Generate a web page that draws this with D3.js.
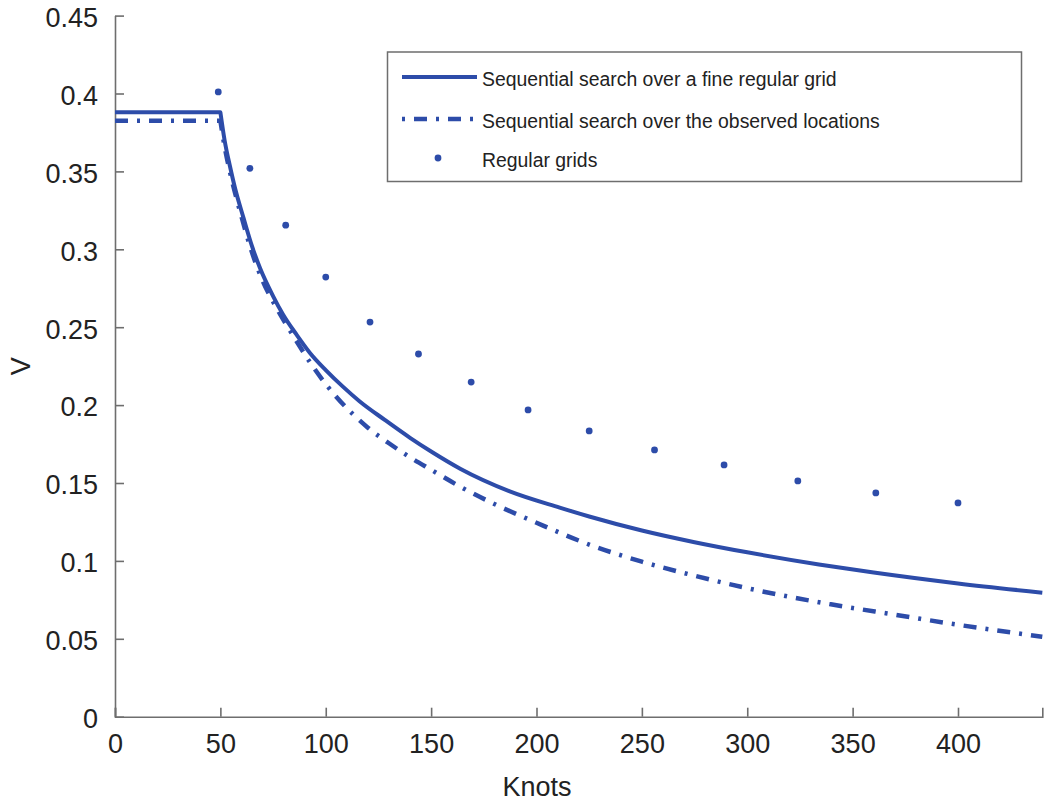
<!doctype html>
<html lang="en">
<head>
<meta charset="utf-8">
<title>V against knots</title>
<script src="https://cdnjs.cloudflare.com/ajax/libs/d3/7.8.5/d3.min.js"></script>
<style>
  body { margin: 0; background: #fff; }
  svg { font-family: "Liberation Sans", Arial, sans-serif; }
  .axis path, .axis line { stroke: #6e6e6e; stroke-width: 1.6px; }
  .axis text { fill: #222; font-size: 27px; }
</style>
</head>
<body>
<div id="chart"></div>
<script>
// knots vs. V
var fineKnots = [0, 50, 52, 54.6, 57, 60.9, 65, 68.8, 75, 79.8, 86, 92.5, 100, 108, 116, 128, 140, 150, 164, 187, 211, 225, 250, 275, 300, 334, 360, 400, 440];
var fineV     = [0.388, 0.388, 0.370, 0.353, 0.339, 0.3205, 0.302, 0.288, 0.270, 0.258, 0.2455, 0.2335, 0.2225, 0.212, 0.2025, 0.1905, 0.179, 0.1702, 0.159, 0.1448, 0.1342, 0.1285, 0.1195, 0.112, 0.1055, 0.0977, 0.0925, 0.0855, 0.0796];

var obsKnots = [0, 50, 52, 55, 60, 65, 70, 77, 85, 92.5, 100, 113, 120, 130, 140, 150, 164, 180, 200, 225, 250, 275, 300, 339, 370, 400, 440];
var obsV     = [0.3825, 0.3825, 0.366, 0.347, 0.321, 0.298, 0.280, 0.2615, 0.2435, 0.2275, 0.2135, 0.194, 0.1855, 0.1755, 0.1665, 0.1585, 0.1475, 0.1365, 0.1245, 0.1105, 0.0995, 0.0905, 0.0825, 0.0723, 0.0655, 0.059, 0.0513];

var gridKnots = [49, 64, 81, 100, 121, 144, 169, 196, 225, 256, 289, 324, 361, 400];
var gridV     = [0.401, 0.352, 0.3155, 0.2822, 0.2533, 0.2328, 0.2148, 0.1969, 0.1834, 0.1712, 0.1616, 0.1513, 0.1436, 0.1372];

var xTicks = [0, 50, 100, 150, 200, 250, 300, 350, 400];
var yTicks = [0, 0.05, 0.1, 0.15, 0.2, 0.25, 0.3, 0.35, 0.4, 0.45];

var seriesNames = [
  "Sequential search over a fine regular grid",
  "Sequential search over the observed locations",
  "Regular grids"
];

var blue = "#2d4ca9";

var width = 1050, height = 803,
    margin = {top: 15.6, right: 7.7, bottom: 86.3, left: 115};

var svg = d3.select("#chart").append("svg")
    .attr("width", width)
    .attr("height", height);

var x = d3.scaleLinear().domain([0, 440]).range([margin.left, width - margin.right]);
var y = d3.scaleLinear().domain([0, 0.45]).range([height - margin.bottom, margin.top]);

// axes, ticks pointing inward
svg.append("g")
    .attr("class", "axis")
    .attr("transform", "translate(0," + y(0) + ")")
    .call(d3.axisBottom(x).tickValues(xTicks).tickSizeInner(-9).tickSizeOuter(-9).tickPadding(17))
    .call(function(g) { g.selectAll("text").attr("dy", "0.71em"); });

svg.append("g")
    .attr("class", "axis")
    .attr("transform", "translate(" + x(0) + ",0)")
    .call(d3.axisLeft(y).tickValues(yTicks).tickSizeInner(-9).tickSizeOuter(0).tickPadding(17)
      .tickFormat(function(d) { return String(+d.toFixed(2)); }))
    .call(function(g) { g.selectAll("text").attr("dy", "0.4em"); });

svg.append("text")
    .attr("x", 537)
    .attr("y", 796)
    .attr("text-anchor", "middle")
    .attr("fill", "#222")
    .style("font-size", "27px")
    .text("Knots");

svg.append("text")
    .attr("transform", "translate(29.5," + y(0.225) + ") rotate(-90)")
    .attr("text-anchor", "middle")
    .attr("fill", "#222")
    .style("font-size", "27px")
    .text("V");

// flat part up to 50 knots is straight, the fall after it is a smooth curve
function curvePath(xs, vs) {
  var pts = d3.zip(xs, vs);
  var smooth = d3.line()
      .x(function(d) { return x(d[0]); })
      .y(function(d) { return y(d[1]); })
      .curve(d3.curveMonotoneX)(pts.slice(1));
  return "M" + x(pts[0][0]) + "," + y(pts[0][1]) + "L" + smooth.slice(1);
}

svg.append("path")
    .attr("fill", "none")
    .attr("stroke", blue)
    .attr("stroke-width", 4.5)
    .attr("stroke-dasharray", "13,9,3,9")
    .attr("d", curvePath(obsKnots, obsV));

svg.append("path")
    .attr("fill", "none")
    .attr("stroke", blue)
    .attr("stroke-width", 4)
    .attr("stroke-linejoin", "round")
    .attr("d", curvePath(fineKnots, fineV));

svg.append("g").selectAll("circle")
    .data(d3.zip(gridKnots, gridV))
    .enter().append("circle")
    .attr("cx", function(d) { return x(d[0]); })
    .attr("cy", function(d) { return y(d[1]); })
    .attr("r", 3.4)
    .attr("fill", blue);

// legend
var lg = svg.append("g");
lg.append("rect")
    .attr("x", 387.5).attr("y", 52)
    .attr("width", 634).attr("height", 129.5)
    .attr("fill", "#fff")
    .attr("stroke", "#6e6e6e")
    .attr("stroke-width", 1.5);

var rowY = [77, 119, 158];

lg.append("line")
    .attr("x1", 402).attr("x2", 477).attr("y1", rowY[0]).attr("y2", rowY[0])
    .attr("stroke", blue).attr("stroke-width", 4);
lg.append("line")
    .attr("x1", 402).attr("x2", 477).attr("y1", rowY[1]).attr("y2", rowY[1])
    .attr("stroke", blue).attr("stroke-width", 4.5)
    .attr("stroke-dasharray", "3,9,13,9");
lg.append("circle")
    .attr("cx", 438).attr("cy", rowY[2]).attr("r", 3.4)
    .attr("fill", blue);

lg.selectAll("text.leg")
    .data(seriesNames)
    .enter().append("text")
    .attr("class", "leg")
    .attr("x", 482)
    .attr("y", function(d, i) { return rowY[i]; })
    .attr("dy", "0.45em")
    .attr("fill", "#222")
    .style("font-size", "19.4px")
    .text(function(d) { return d; });
</script>
</body>
</html>
